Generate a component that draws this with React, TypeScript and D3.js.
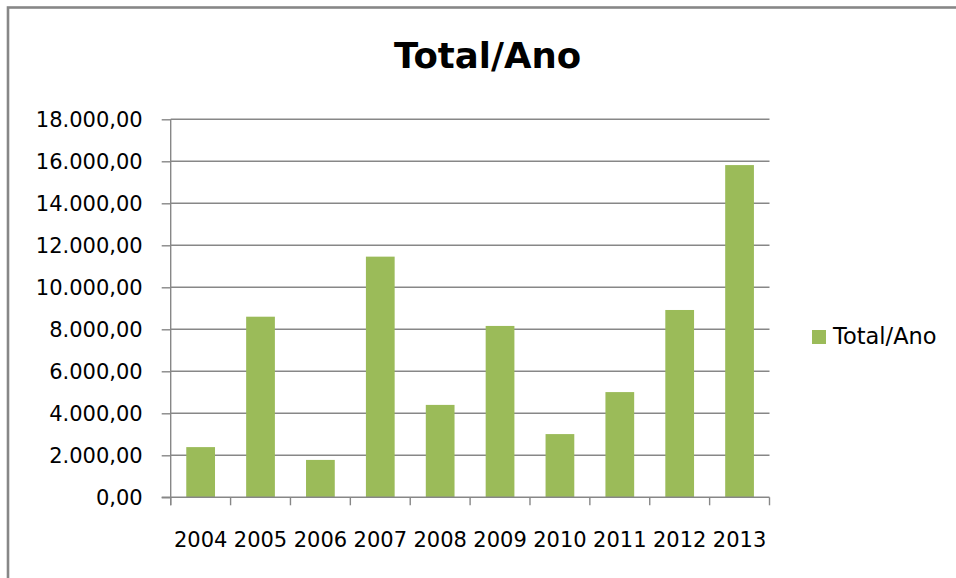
import React, { useRef, useEffect } from 'react';
import * as d3 from 'd3';

// dados
const anos = ['2004', '2005', '2006', '2007', '2008', '2009', '2010', '2011', '2012', '2013'];
const totais = [2390, 8600, 1780, 11460, 4400, 8160, 3010, 5010, 8920, 15820];
const yTicks = [0, 2000, 4000, 6000, 8000, 10000, 12000, 14000, 16000, 18000];
const titulo = 'Total/Ano';
const serie = 'Total/Ano';

const W = 956;
const H = 578;
const FONT = '"DejaVu Sans", Verdana, sans-serif';

const ptBR = d3.formatLocale({ decimal: ',', thousands: '.', grouping: [3], currency: ['', ''] });
const fmt = ptBR.format(',.2f');

const App = () => {
  const ref = useRef<SVGSVGElement>(null);

  useEffect(() => {
    const svg = d3.select(ref.current);
    svg.selectAll('*').remove();

    const left = 170.7, right = 769.5, top = 119.3, bottom = 497.3;

    const x = d3.scaleBand<string>()
      .domain(anos)
      .range([left, right])
      .paddingInner(0.52)
      .paddingOuter(0.26);

    const y = d3.scaleLinear()
      .domain([0, 18000])
      .range([bottom, top]);

    svg.append('rect')
      .attr('width', W).attr('height', H)
      .attr('fill', '#fff');

    // borda do gráfico
    svg.append('rect')
      .attr('x', 8).attr('y', 7.5)
      .attr('width', W + 20).attr('height', H + 20)
      .attr('fill', 'none')
      .attr('stroke', '#878787')
      .attr('stroke-width', 2.6);

    // título
    svg.append('text')
      .attr('x', 487.5).attr('y', 67.5)
      .attr('text-anchor', 'middle')
      .style('font-family', FONT)
      .style('font-weight', 'bold')
      .style('font-size', '35.5px')
      .attr('fill', '#000')
      .text(titulo);

    // linhas de grade + eixo Y
    const yAxis = svg.append('g')
      .attr('transform', `translate(${left},0)`)
      .call(d3.axisLeft(y).tickValues(yTicks).tickSize(9).tickFormat(d => fmt(d as number)).tickPadding(19));
    yAxis.select('.domain').remove();
    yAxis.selectAll('line').attr('stroke', '#878787').attr('stroke-width', 1.4);
    yAxis.selectAll('text')
      .style('font-family', FONT)
      .style('font-size', '21px')
      .attr('fill', '#000');

    svg.append('g')
      .selectAll('line')
      .data(yTicks.filter(d => d > 0))
      .join('line')
      .attr('x1', left).attr('x2', right)
      .attr('y1', d => y(d)).attr('y2', d => y(d))
      .attr('stroke', '#878787')
      .attr('stroke-width', 1.4);

    // barras
    svg.append('g')
      .selectAll('rect')
      .data(anos)
      .join('rect')
      .attr('x', d => x(d)!)
      .attr('width', x.bandwidth())
      .attr('y', (d, i) => y(totais[i]))
      .attr('height', (d, i) => y(0) - y(totais[i]))
      .attr('fill', '#9BBB59');

    // eixo X
    svg.append('line')
      .attr('x1', left).attr('x2', left)
      .attr('y1', top).attr('y2', bottom + 8)
      .attr('stroke', '#878787').attr('stroke-width', 1.4);
    svg.append('line')
      .attr('x1', left - 9).attr('x2', right)
      .attr('y1', bottom).attr('y2', bottom)
      .attr('stroke', '#878787').attr('stroke-width', 1.4);

    const step = x.step();
    svg.append('g')
      .selectAll('line')
      .data(d3.range(anos.length + 1))
      .join('line')
      .attr('x1', i => left + i * step).attr('x2', i => left + i * step)
      .attr('y1', bottom).attr('y2', bottom + 8)
      .attr('stroke', '#878787').attr('stroke-width', 1.4);

    svg.append('g')
      .selectAll('text')
      .data(anos)
      .join('text')
      .attr('x', d => x(d)! + x.bandwidth() / 2)
      .attr('y', 546.5)
      .attr('text-anchor', 'middle')
      .style('font-family', FONT)
      .style('font-size', '21px')
      .attr('fill', '#000')
      .text(d => d);

    // legenda
    svg.append('rect')
      .attr('x', 812).attr('y', 330)
      .attr('width', 14).attr('height', 14)
      .attr('fill', '#9BBB59');
    svg.append('text')
      .attr('x', 833).attr('y', 343.5)
      .style('font-family', FONT)
      .style('font-size', '22.5px')
      .attr('fill', '#000')
      .text(serie);
  }, []);

  return (
    <svg ref={ref} width={W} height={H}
      style={{ position: 'absolute', left: 0, top: 0, display: 'block' }} />
  );
};

export default App;
